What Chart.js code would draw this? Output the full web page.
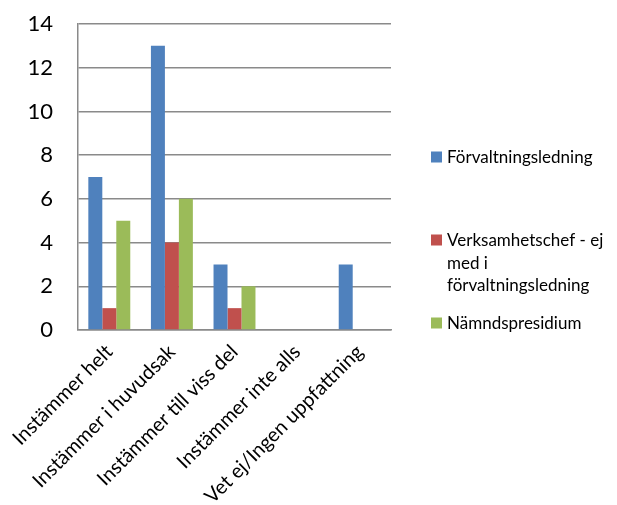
<!DOCTYPE html>
<html>
<head>
<meta charset="utf-8">
<script src="https://cdn.jsdelivr.net/npm/chart.js@4/dist/chart.umd.min.js"></script>
<style>
  html, body { margin: 0; padding: 0; background: #fff; }
  #wrap { width: 617px; height: 505px; position: relative; }
</style>
</head>
<body>
<div id="wrap"><canvas id="c" width="617" height="505"></canvas></div>
<script>
const categories = [
  'Instämmer helt',
  'Instämmer i huvudsak',
  'Instämmer till viss del',
  'Instämmer inte alls',
  'Vet ej/Ingen uppfattning'
];
const seriesNames = [
  'Förvaltningsledning',
  'Verksamhetschef - ej med i förvaltningsledning',
  'Nämndspresidium'
];
const forvaltningsledning = [7, 13, 3, 0, 3];
const verksamhetschef = [1, 4, 1, 0, 0];
const namndspresidium = [5, 6, 2, 0, 0];
const seriesColors = ['#4F81BD', '#C0504D', '#9BBB59'];
const yTicks = [0, 2, 4, 6, 8, 10, 12, 14];

const FONT = 'Lato, "Open Sans", sans-serif';
const gridColor = '#8a8a8a';

// Legend drawn at the right of the plot, with word-wrapped entries
const sideLegend = {
  id: 'sideLegend',
  afterDraw(chart) {
    const ctx = chart.ctx;
    const area = chart.chartArea;
    const boxX = area.right + 40;
    const textX = boxX + 16;
    const maxW = chart.width - textX - 4;
    const lineH = 22.5;
    let y = 157;
    ctx.save();
    ctx.font = '17px ' + FONT;
    ctx.textBaseline = 'middle';
    ctx.textAlign = 'left';
    chart.data.datasets.forEach((ds) => {
      const words = ds.label.split(' ');
      const lines = [];
      let cur = '';
      words.forEach((w) => {
        const test = cur ? cur + ' ' + w : w;
        if (cur && ctx.measureText(test).width > maxW) {
          lines.push(cur);
          cur = w;
        } else {
          cur = test;
        }
      });
      if (cur) lines.push(cur);
      ctx.fillStyle = ds.backgroundColor;
      ctx.fillRect(boxX, y - 5.5, 11, 11);
      ctx.fillStyle = '#000';
      lines.forEach((ln, i) => ctx.fillText(ln, textX, y + 1 + i * lineH));
      y += 83;
    });
    ctx.restore();
  }
};

const datasets = [forvaltningsledning, verksamhetschef, namndspresidium].map((vals, i) => ({
  label: seriesNames[i],
  data: vals,
  backgroundColor: seriesColors[i],
  borderWidth: 0,
  categoryPercentage: 0.67,
  barPercentage: 1.0
}));

new Chart(document.getElementById('c'), {
  type: 'bar',
  data: { labels: categories, datasets },
  options: {
    responsive: false,
    animation: false,
    devicePixelRatio: 1,
    layout: { padding: { left: 0, right: 226, top: 24, bottom: 0 } },
    plugins: {
      legend: { display: false },
      tooltip: { enabled: false }
    },
    scales: {
      x: {
        grid: { display: false, drawTicks: false },
        border: { display: true, color: gridColor, width: 1.5 },
        ticks: {
          color: '#000',
          font: { family: FONT, size: 20 },
          minRotation: 45,
          maxRotation: 45,
          padding: 10,
          autoSkip: false
        },
        afterFit(scale) {
          scale.height = 175;
          scale.paddingLeft = 0;
          scale.paddingRight = 0;
          scale.paddingTop = 0;
          scale.paddingBottom = 0;
        }
      },
      y: {
        min: 0,
        max: 14,
        afterBuildTicks(scale) { scale.ticks = yTicks.map(v => ({ value: v })); },
        grid: { color: gridColor, lineWidth: 1.5, drawTicks: false },
        border: { display: true, color: gridColor, width: 1.5 },
        ticks: {
          color: '#000',
          font: { family: FONT, size: 22 },
          padding: 25
        },
        afterFit(scale) {
          scale.width = 78;
          scale.paddingTop = 0;
          scale.paddingBottom = 0;
          scale.paddingLeft = 0;
          scale.paddingRight = 0;
        }
      }
    }
  },
  plugins: [sideLegend]
});
</script>
</body>
</html>
